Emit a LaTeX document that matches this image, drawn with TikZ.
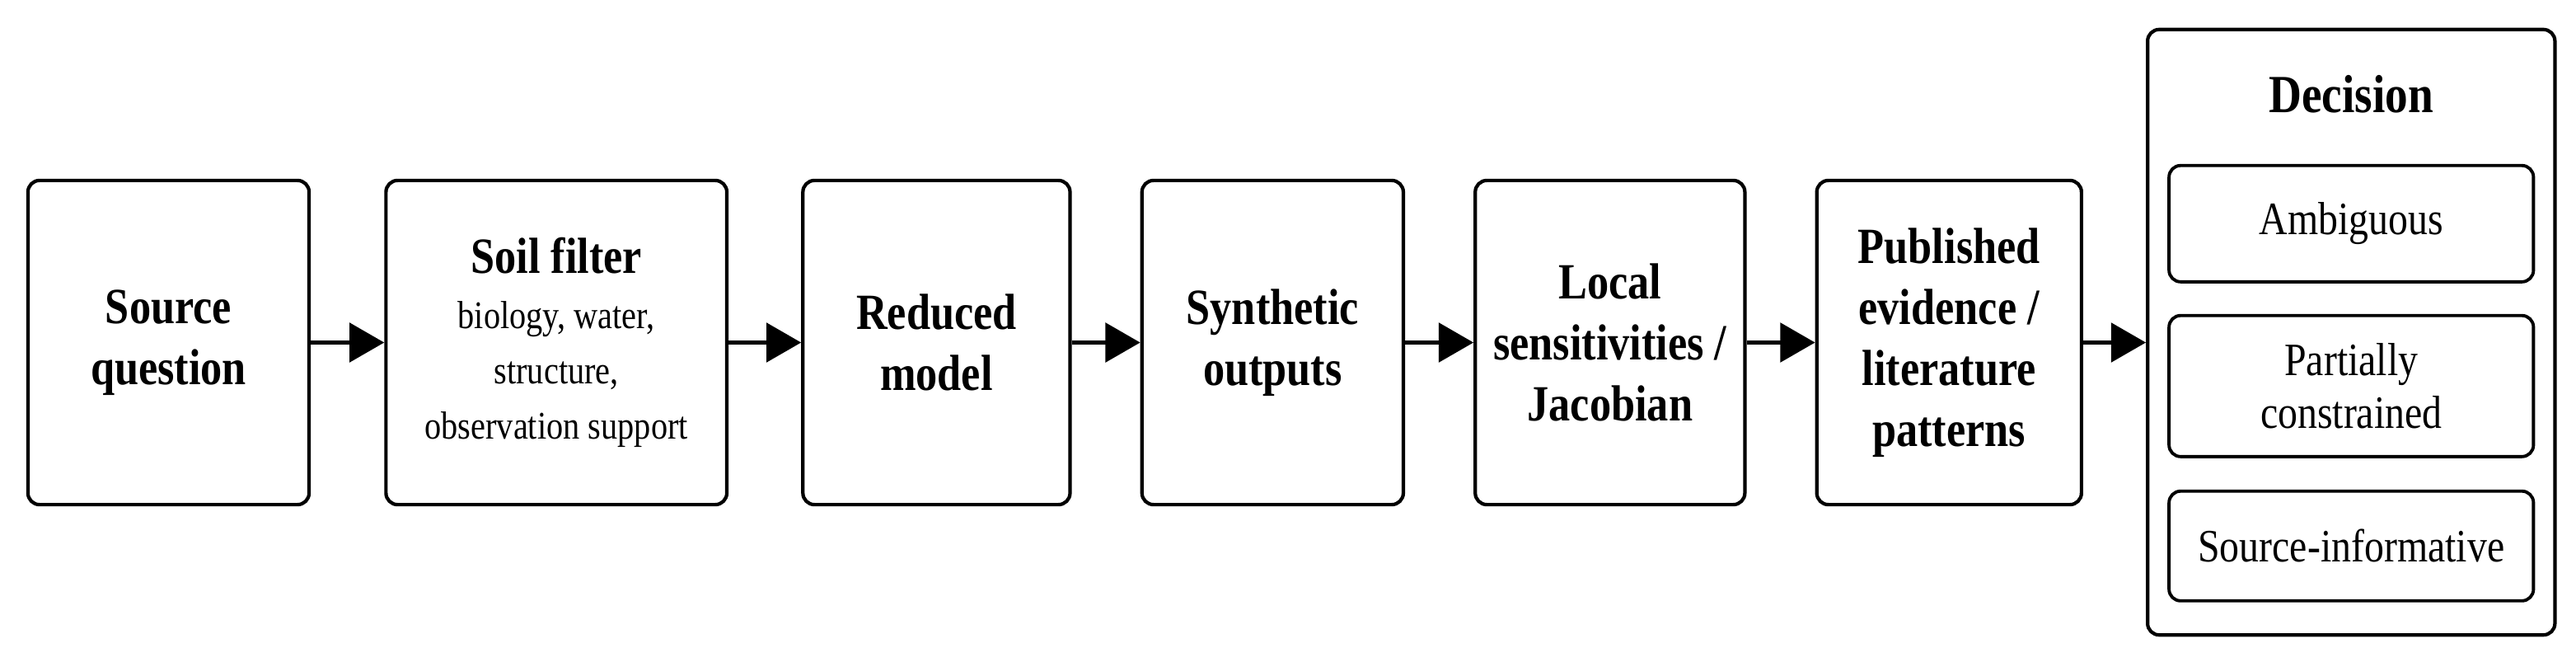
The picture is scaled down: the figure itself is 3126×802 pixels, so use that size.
\documentclass[tikz,border=0pt]{standalone}
\usepackage{fontspec}
\setmainfont{Liberation Serif}[FakeStretch=0.85]
\usepackage{tikz}
\usetikzlibrary{positioning,arrows.meta}
\tikzstyle{block} = [rectangle,rounded corners=4pt,line width=1.2pt,draw=black,fill=white,align=center,minimum height=3.93cm,font=\fontsize{17.5}{21}\selectfont\bfseries]
\tikzstyle{choice} = [rectangle,rounded corners=4pt,line width=1.1pt,draw=black,align=center,minimum width=4.42cm,font=\fontsize{16}{18}\selectfont]
\tikzstyle{line} = [-{Triangle[length=12pt,width=13.5pt]},line width=1.2pt]
\newcommand{\subtxt}{\fontsize{13.5}{19}\selectfont\mdseries}

\begin{document}
\begin{tikzpicture}[x=0.01cm,y=0.01cm,node distance=0.83cm]
    \useasboundingbox (0,0) rectangle (3126,802);
    % pipeline
    \node[block,minimum width=3.41cm] (src) at (204.5,386.5) {Source\\question};
    \node[block,minimum width=4.11cm,text width=3.9cm,align=flush center,right=0.89cm of src] (soil) {Soil filter\par
        {\subtxt biology, water,\\structure,\\observation support\par}};
    \node[block,minimum width=3.24cm,right=0.88cm of soil] (red) {Reduced\\model};
    \node[block,minimum width=3.17cm,right=of red] (syn) {Synthetic\\outputs};
    \node[block,minimum width=3.27cm,right=of syn] (jac) {Local\\sensitivities /\\Jacobian};
    \node[block,minimum width=3.21cm,right=of jac] (pub) {Published\\evidence /\\literature\\patterns};
    % decision panel
    \node[rectangle,rounded corners=4pt,line width=1.2pt,draw=black,minimum width=4.94cm,minimum height=7.34cm,right=0.76cm of pub,yshift=0.125cm] (dec) {};
    \node[font=\fontsize{18.5}{21}\selectfont\bfseries] (dtitle) at ([yshift=-0.81cm]dec.north) {Decision};
    \node[choice,minimum height=1.41cm] (amb) at ([yshift=-2.375cm]dec.north) {Ambiguous};
    \node[choice,minimum height=1.71cm,below=0.37cm of amb] (part) {Partially\\constrained};
    \node[choice,minimum height=1.33cm,below=0.38cm of part] (inf) {Source-informative};
    % connectors
    \path[line] (src) edge (soil)
        (soil) edge (red)
        (red) edge (syn)
        (syn) edge (jac)
        (jac) edge (pub)
        (pub) edge (pub -| dec.west);
\end{tikzpicture}
\end{document}
